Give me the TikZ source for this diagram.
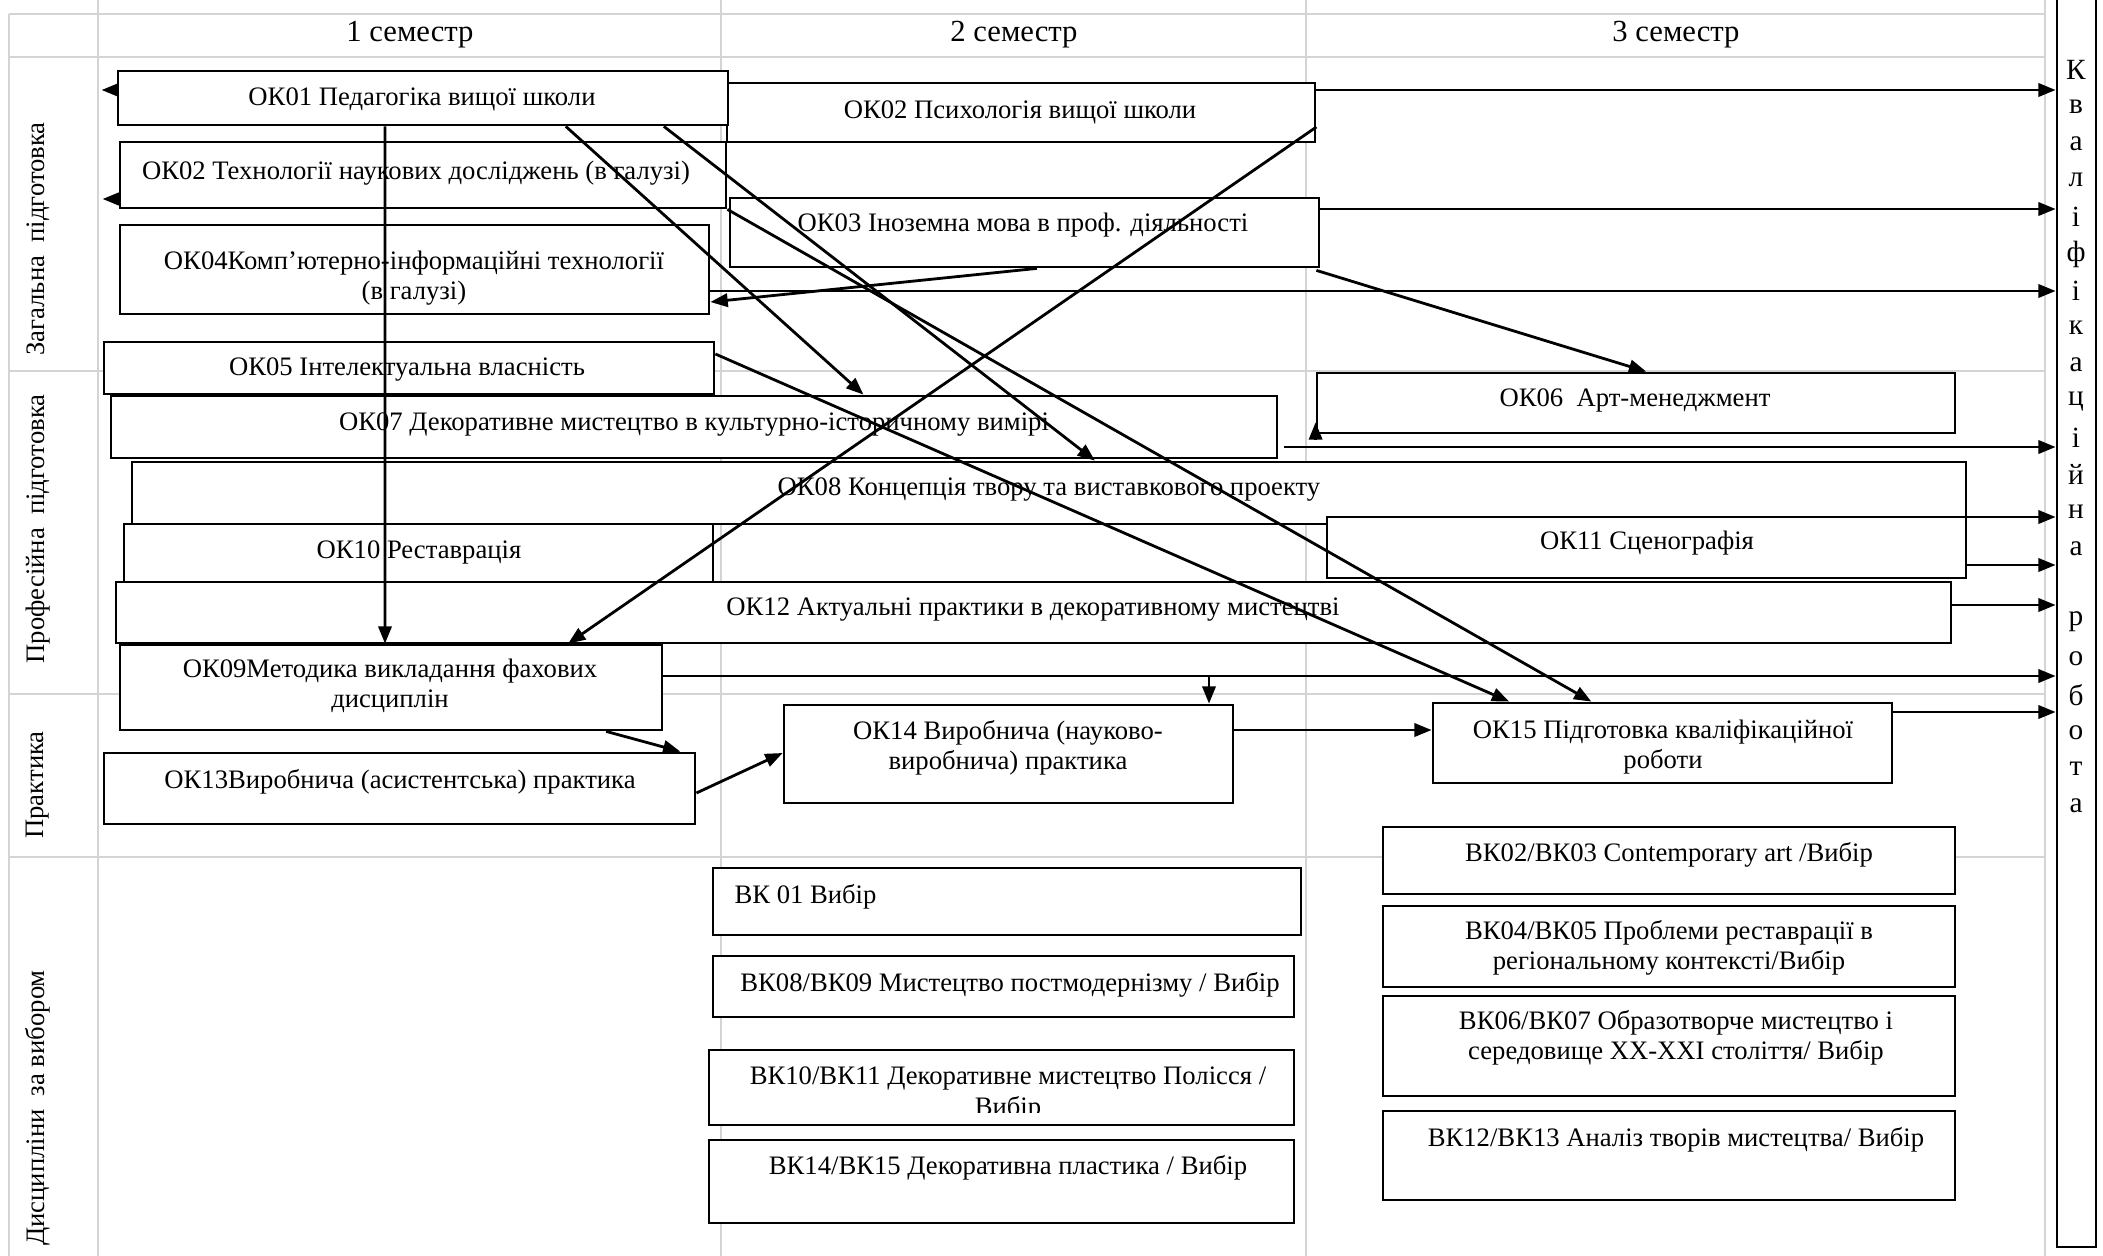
\documentclass[tikz,border=0pt]{standalone}
\usepackage{fontspec}
\setmainfont{Liberation Serif}
\usetikzlibrary{arrows.meta,calc,fit}
\newcommand\mybox[5]{\node[box, fit={(#2,#3) (#4,#5)}] (#1) {};}
\begin{document}
\begin{tikzpicture}[x=0.375pt,y=-0.375pt,
  grid/.style={draw=black!17, line width=0.8pt},
  box/.style={draw=black, line width=1.05pt, fill=white, inner sep=0pt, rectangle},
  txt/.style={font=\fontsize{10}{11.3}\selectfont, align=center, inner sep=0pt},
  hdr/.style={font=\fontsize{11.5}{13}\selectfont, inner sep=0pt},
  rowlab/.style={font=\fontsize{10}{12}\selectfont, rotate=90, inner sep=0pt},
  klet/.style={font=\fontsize{11}{13}\selectfont, inner sep=0pt},
  arr/.style={line width=1.05pt, -{Triangle[length=6.5pt,width=5pt]}},
]
\useasboundingbox (0,0) rectangle (2103,1256);
% grid
\foreach \x in {98,721,1306,2045} \draw[grid] (\x,0) -- (\x,1256);
\draw[grid] (9,14) -- (9,1256);
\foreach \y in {14,57,371,694,857} \draw[grid] (9,\y) -- (2045,\y);
% headers
\node[hdr] (h1) at (410,35) {1 семестр};
\node[hdr] (h2) at (1014,35) {2 семестр};
\node[hdr] (h3) at (1676,35) {3 семестр};
% row labels
\node[rowlab] (r1) at (38,239) {Загальна\ \ підготовка};
\node[rowlab] (r2) at (38,529) {Професійна\ \ підготовка};
\node[rowlab] (r3) at (38,785) {Практика};
\node[rowlab] (r4) at (38,1108) {Дисципліни\ \ за вибором};
% boxes
\mybox{psy}{727}{83}{1315}{142}
\mybox{ok01}{118}{71}{728}{125}
\mybox{ok02}{120}{142}{726}{208}
\mybox{ok03}{730}{198}{1319}{267}
\mybox{ok04}{120}{225}{709}{314}
\mybox{ok05}{104}{342}{714}{394}
\mybox{ok06}{1317}{373}{1955}{433}
\mybox{ok07}{111}{396}{1277}{458}
\mybox{ok08}{132}{462}{1966}{524}
\mybox{ok10}{124}{524}{713}{582}
\mybox{ok11}{1327}{517}{1966}{578}
\mybox{ok12}{116}{582}{1951}{643}
\mybox{ok09}{120}{645}{662}{730}
\mybox{ok13}{104}{753}{695}{824}
\mybox{ok14}{784}{705}{1233}{803}
\mybox{ok15}{1433}{703}{1892}{783}
\mybox{bk01}{713}{868}{1301}{935}
\mybox{bk08}{713}{956}{1294}{1017}
\mybox{bk10}{709}{1050}{1294}{1125}
\mybox{bk14}{709}{1140}{1294}{1223}
\mybox{bk02}{1383}{827}{1955}{894}
\mybox{bk04}{1383}{906}{1955}{987}
\mybox{bk06}{1383}{996}{1955}{1096}
\mybox{bk12}{1383}{1111}{1955}{1200}
\mybox{kv}{2057}{-5}{2096}{1247}
% texts
\node[txt] (psyt) at (1020,112) {ОК02 Психологія вищої школи};
\node[txt] (ok01t) at (422,99) {ОК01 Педагогіка вищої школи};
\node[txt] (ok02t) at (416,173) {ОК02 Технології наукових досліджень (в галузі)};
\node[txt] (ok03t) at (1023,225) {ОК03 Іноземна мова в проф. діяльності};
\node[txt] (ok04t) at (414,278) {ОК04Комп’ютерно-інформаційні технології\\(в галузі)};
\node[txt] (ok05t) at (407,370) {ОК05 Інтелектуальна власність};
\node[txt] (ok06t) at (1635,400) {ОК06\ \ Арт-менеджмент};
\node[txt] (ok07t) at (694,425) {ОК07 Декоративне мистецтво в культурно-історичному вимірі};
\node[txt] (ok08t) at (1049,490) {ОК08 Концепція твору та виставкового проекту};
\node[txt] (ok10t) at (419,552) {ОК10 Реставрація};
\node[txt] (ok11t) at (1647,543) {ОК11 Сценографія};
\node[txt] (ok12t) at (1033,610) {ОК12 Актуальні практики в декоративному мистецтві};
\node[txt] (ok09t) at (390,686) {ОК09Методика викладання фахових\\дисциплін};
\node[txt] (ok13t) at (400,782) {ОК13Виробнича (асистентська) практика};
\node[txt] (ok14t) at (1008,748) {ОК14 Виробнича (науково-\\виробнича) практика};
\node[txt] (ok15t) at (1663,747) {ОК15 Підготовка кваліфікаційної\\роботи};
\node[txt, anchor=west] (bk01t) at (734,897) {ВК 01 Вибір};
\node[txt] (bk08t) at (1010,985) {ВК08/ВК09 Мистецтво постмодернізму / Вибір};
\begin{scope}
\clip (709,1050) rectangle (1294,1112);
\node[txt] (bk10t) at (1008,1094) {ВК10/ВК11 Декоративне мистецтво Полісся /\\Вибір};
\end{scope}
\node[txt] (bk14t) at (1008,1168) {ВК14/ВК15 Декоративна пластика / Вибір};
\node[txt] (bk02t) at (1669,855) {ВК02/ВК03 Contemporary art /Вибір};
\node[txt] (bk04t) at (1669,948) {ВК04/ВК05 Проблеми реставрації в\\регіональному контексті/Вибір};
\node[txt] (bk06t) at (1676,1038) {ВК06/ВК07 Образотворче мистецтво і\\середовище XX-XXI століття/ Вибір};
\node[txt] (bk12t) at (1676,1140) {ВК12/ВК13 Аналіз творів мистецтва/ Вибір};
% vertical letters
\foreach \l [count=\i from 0] in {К,в,а,л,і,ф,і,к,а,ц,і,й,н,а}
  \node[klet] (ka\i) at (2076,70+36.8*\i) {\l};
\foreach \l [count=\i from 15] in {р,о,б,о,т,а}
  \node[klet] (kb\i) at (2076,70+36.8*\i) {\l};
% connectors
\draw[arr] ($(ok01.south west)!0.733!(ok01.south east)$) -- ($(ok07.north west)!0.645!(ok07.north east)$);
\draw[arr] ($(ok01.south west)!0.893!(ok01.south east)$) -- ($(ok08.north west)!0.525!(ok08.north east)$);
\draw[arr] (ok02.south east) -- ($(ok15.north west)!0.346!(ok15.north east)$);
\draw[arr] (ok05.east |- 0,354) -- ($(ok15.north west)!0.168!(ok15.north east)$);
\draw[arr] (psy.east |- 0,127) -- ($(ok09.north west)!0.825!(ok09.north east)$);
\draw[arr] ($(ok03.south west)!0.521!(ok03.south east)$) -- (ok04.east |- 0,302);
\draw[arr] ($(ok03.south east)+(-4,2)$) -- ($(ok06.north west)!0.516!(ok06.north east)$);
\draw[arr] ($(ok01.south west)!0.438!(ok01.south east)$) -- ($(ok09.north west)!0.489!(ok09.north east)$);
\draw[arr] ($(ok09.south west)!0.895!(ok09.south east)$) -- ($(ok13.north west)!0.973!(ok13.north east)$);
\draw[arr] (ok13.east |- 0,793) -- (ok14.west |- 0,753);
\draw[arr] (ok09.east |- 0,676) -- (kv.west |- 0,676);
\coordinate (br) at (1209,676);
\draw[arr] (br) -- (br |- ok14.north);
\draw[arr] (ok14.east |- 0,730) -- (ok15.west |- 0,730);
\draw[arr] (psy.east |- 0,90) -- (kv.west |- 0,90);
\draw[arr] (ok03.east |- 0,209) -- (kv.west |- 0,209);
\draw[arr] (ok04.east |- 0,291) -- (kv.west |- 0,291);
\draw[arr] ($(ok07.east |- 0,447)+(6,0)$) -- (kv.west |- 0,447);
\draw[arr] (ok08.east |- 0,517) -- (kv.west |- 0,517);
\draw[arr] (ok11.east |- 0,565) -- (kv.west |- 0,565);
\draw[arr] (ok12.east |- 0,605) -- (kv.west |- 0,605);
\draw[arr] (ok15.east |- 0,712) -- (kv.west |- 0,712);
\draw[arr] (ok01.west |- 0,90) -- ++(-15,0);
\draw[arr] (ok02.west |- 0,199) -- ++(-16,0);
\draw[arr] ($(ok06.south west)+(0,5)$) -- ++(0,-17);
\end{tikzpicture}
\end{document}
